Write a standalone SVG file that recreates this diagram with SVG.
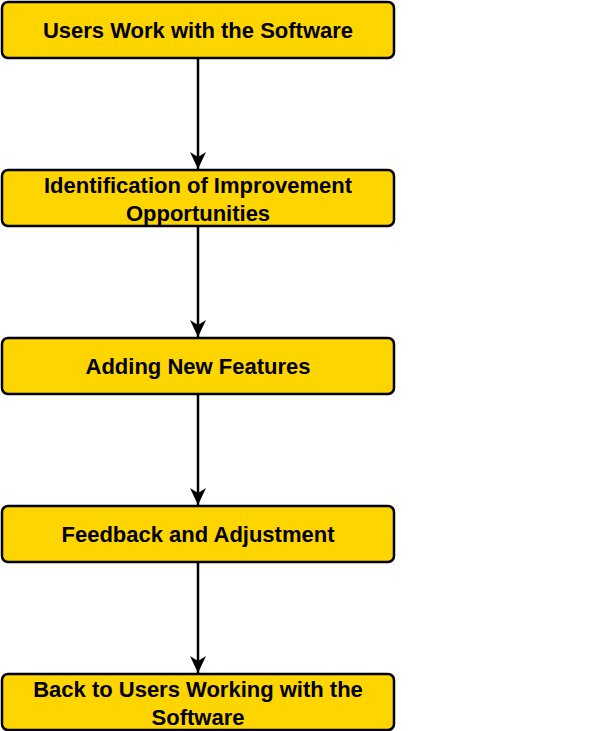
<svg xmlns="http://www.w3.org/2000/svg" width="595" height="731" viewBox="0 0 595 731">
<defs>
<style>
.box{fill:#FFD500;stroke:#000;stroke-width:2.5}
.t{font-family:"Liberation Sans",Arial,sans-serif;font-weight:bold;font-size:22px;fill:#000;text-anchor:middle}
.c{stroke:#000;stroke-width:2.5;fill:none}
</style>
<marker id="ah" markerWidth="18" markerHeight="16" refX="17" refY="8" orient="auto" markerUnits="userSpaceOnUse" viewBox="0 0 18 16">
<path d="M0,0 L17,8 L0,16 L5,8 Z" fill="#000"/>
</marker>
</defs>
<rect width="595" height="731" fill="#fff"/>
<g id="connectors">
<line class="c" x1="198" y1="58" x2="198" y2="169" marker-end="url(#ah)"/>
<line class="c" x1="198" y1="226" x2="198" y2="337" marker-end="url(#ah)"/>
<line class="c" x1="198" y1="394" x2="198" y2="505" marker-end="url(#ah)"/>
<line class="c" x1="198" y1="562" x2="198" y2="673" marker-end="url(#ah)"/>
</g>
<g id="n1"><rect class="box" x="2" y="2" width="392" height="56" rx="6"/><text class="t" x="198" y="38">Users Work with the Software</text></g>
<g id="n2"><rect class="box" x="2" y="170" width="392" height="56" rx="6"/><text class="t" x="198" y="193">Identification of Improvement</text><text class="t" x="198" y="221">Opportunities</text></g>
<g id="n3"><rect class="box" x="2" y="338" width="392" height="56" rx="6"/><text class="t" x="198" y="374">Adding New Features</text></g>
<g id="n4"><rect class="box" x="2" y="506" width="392" height="56" rx="6"/><text class="t" x="198" y="542">Feedback and Adjustment</text></g>
<g id="n5"><rect class="box" x="2" y="674" width="392" height="56" rx="6"/><text class="t" x="198" y="697">Back to Users Working with the</text><text class="t" x="198" y="725">Software</text></g>
</svg>
